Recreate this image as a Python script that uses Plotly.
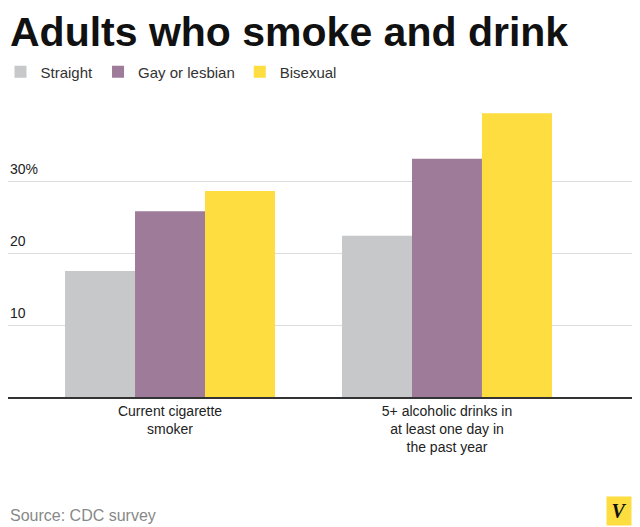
import plotly.graph_objects as go

categories = ["Current cigarette<br>smoker", "5+ alcoholic drinks in<br>at least one day in<br>the past year"]
series = ["Straight", "Gay or lesbian", "Bisexual"]
values = {
    "Straight": [17.5, 22.4],
    "Gay or lesbian": [25.8, 33.1],
    "Bisexual": [28.6, 39.4],
}
colors = {"Straight": "#c6c8c9", "Gay or lesbian": "#9e7b98", "Bisexual": "#fddd3f"}
ytick_vals = [10, 20, 30]
ytick_text = ["10", "20", "30%"]

xpos = list(range(len(categories)))
fig = go.Figure()
for s in series:
    fig.add_trace(go.Bar(name=s, x=xpos, y=values[s], marker_color=colors[s], marker_line_width=0))

fig.update_layout(
    width=632, height=519, barmode="group", bargap=0.242, bargroupgap=0,
    margin=dict(l=0, r=8, t=92, b=130, autoexpand=False),
    paper_bgcolor="white", plot_bgcolor="white",
    font=dict(family="Liberation Sans, Arial", size=14, color="#222"),
    legend=dict(orientation="h", x=-0.012, y=1.094, xanchor="left", yanchor="middle", font=dict(size=15, color="#333"),
                itemsizing="constant", traceorder="normal", itemwidth=30),
    showlegend=True,
)
fig.update_xaxes(range=[-0.585, 1.668], tickvals=xpos, ticktext=categories, showline=True,
                 linecolor="#333", linewidth=1.5, ticks="", tickfont=dict(size=14, color="#222"),
                 showgrid=False, automargin=False)
fig.update_yaxes(range=[0, 41.25], showticklabels=False, showgrid=True, gridcolor="#dcdcdc",
                 tickvals=ytick_vals, zeroline=False, automargin=False)
fig.add_annotation(x=0, xref="paper", y=1, yref="paper", yshift=93, text="<b>Adults who smoke and drink</b>",
                   showarrow=False, xanchor="left", yanchor="top",
                   font=dict(family="Liberation Sans", size=41, color="#111"))
for v, t in zip(ytick_vals, ytick_text):
    fig.add_annotation(x=0, xref="paper", y=v, yref="y", text=t, showarrow=False, xanchor="left",
                       yanchor="bottom", yshift=2, font=dict(size=14, color="#222"))
fig.add_annotation(x=0, xref="paper", y=0, yref="paper", yshift=-129, yanchor="bottom", xanchor="left",
                   text="Source: CDC survey", showarrow=False, font=dict(size=16, color="#888"))
fig.add_annotation(x=1, xref="paper", y=0, yref="paper", yshift=-129, xanchor="right", yanchor="bottom",
                   text="<b><i>V</i></b>", showarrow=False, bgcolor="#fddd3f",
                   font=dict(size=20, color="#111", family="Liberation Serif"), width=22, height=26)
fig.write_html("out.html")
